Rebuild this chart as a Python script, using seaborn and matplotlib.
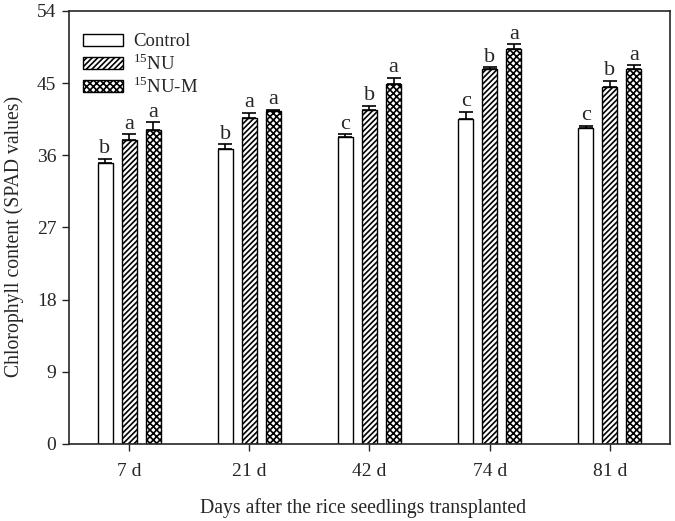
import matplotlib
matplotlib.use("Agg")
import matplotlib.pyplot as plt
import seaborn as sns
import pandas as pd
import numpy as np

days = ["7 d", "21 d", "42 d", "74 d", "81 d"]
treatments = ["Control", "15NU", "15NU-M"]
legend_labels = ["Control", r"$^{15}$NU", r"$^{15}$NU-M"]
control = [35.1, 36.75, 38.3, 40.5, 39.4]
nu = [37.9, 40.6, 41.6, 46.75, 44.5]
num = [39.1, 41.5, 44.9, 49.3, 46.8]
control_err = [0.45, 0.6, 0.3, 0.9, 0.3]
nu_err = [0.7, 0.65, 0.55, 0.2, 0.8]
num_err = [1.0, 0.15, 0.75, 0.55, 0.4]
control_let = ["b", "b", "c", "c", "c"]
nu_let = ["a", "a", "b", "b", "b"]
num_let = ["a", "a", "a", "a", "a"]
yticks = [0, 9, 18, 27, 36, 45, 54]

sns.set_style("ticks")
plt.rcParams["font.family"] = ["Liberation Serif", "DejaVu Serif"]
plt.rcParams["mathtext.fontset"] = "custom"
plt.rcParams["mathtext.rm"] = "Liberation Serif"
plt.rcParams["hatch.linewidth"] = 1.2

df = pd.DataFrame({
    "Day": days * 3,
    "Treatment": [t for t in treatments for _ in days],
    "Value": control + nu + num,
})

fig = plt.figure(figsize=(6.75, 5.21), dpi=100)
ax = fig.add_axes([0.1022, 0.1478, 0.8904, 0.8312])

sns.barplot(data=df, x="Day", y="Value", hue="Treatment", order=days,
            hue_order=treatments, palette=["white"] * 3, edgecolor="black",
            linewidth=1.0, width=0.6, gap=0.375, errorbar=None, ax=ax,
            legend=False)

bar_containers = list(ax.containers)
hatches = [None, "//////", "xxxxx"]
errs = [control_err, nu_err, num_err]
lets = [control_let, nu_let, num_let]
vals = [control, nu, num]
for cont, h, e, l, v in zip(bar_containers, hatches, errs, lets, vals):
    xs = []
    for p in cont.patches:
        if h:
            p.set_hatch(h)
        xs.append(p.get_x() + p.get_width() / 2)
    xs = np.array(xs)
    ax.errorbar(xs, v, yerr=[np.zeros(len(e)), e], fmt="none", ecolor="black",
                elinewidth=1.2, capsize=5, capthick=1.2)
    for x, y, err, lt in zip(xs, v, e, l):
        ax.annotate(lt, (x, y + err), xytext=(0, 0.5), textcoords="offset points",
                    ha="center", va="bottom", fontsize=16)

ax.set_ylim(0, 54)
ax.set_xlim(-0.5, 4.5)
ax.set_yticks(yticks)
ax.tick_params(axis="both", labelsize=14, direction="out", length=5, width=1)
ax.tick_params(axis="y", pad=4)
ax.tick_params(axis="x", pad=9)
for s in ax.spines.values():
    s.set_linewidth(1.2)
    s.set_visible(True)
ax.set_xlabel("Days after the rice seedlings transplanted", fontsize=14.2)
ax.set_ylabel("Chlorophyll content (SPAD values)", fontsize=14.2)
ax.xaxis.set_label_coords(0.49, -0.125)
ax.yaxis.set_label_coords(-0.075, 0.48)

handles = [c.patches[0] for c in bar_containers]
leg = ax.legend(handles, legend_labels, loc="upper left", frameon=False,
                fontsize=13.5, handlelength=2.13, handleheight=0.64,
                handletextpad=0.53, labelspacing=0.12, borderpad=0,
                borderaxespad=0, bbox_to_anchor=(0.0233, 0.948))

fig.savefig("out.png", dpi=100)
